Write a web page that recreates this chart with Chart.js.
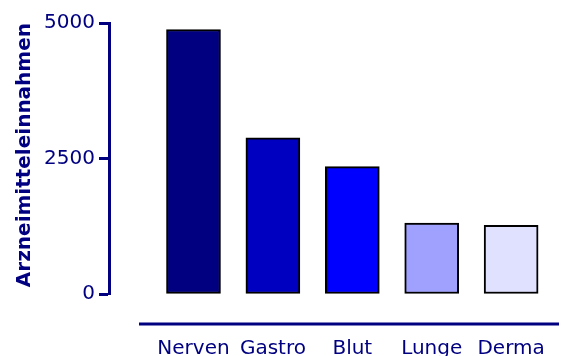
<!DOCTYPE html>
<html>
<head>
<meta charset="utf-8">
<script src="https://cdn.jsdelivr.net/npm/chart.js@4/dist/chart.umd.min.js"></script>
<style>
  html, body { margin: 0; padding: 0; background: #ffffff; }
  #wrap { width: 561px; height: 356px; }
</style>
</head>
<body>
<div id="wrap"><canvas id="c" width="561" height="356"></canvas></div>
<script>
const categories = ['Nerven', 'Gastro', 'Blut', 'Lunge', 'Derma'];
const values = [4880, 2880, 2350, 1310, 1265];
const barColors = ['#000080', '#0000C0', '#0000FF', '#A0A0FF', '#E0E0FF'];
const yTicks = [0, 2500, 5000];
const yTitle = 'Arzneimitteleinnahmen';

const NAVY = '#000080';
const FONT = 'DejaVu Sans';

const xLinePlugin = {
  id: 'xLine',
  afterDraw(chart) {
    const ctx = chart.ctx;
    const a = chart.chartArea;
    ctx.save();
    ctx.strokeStyle = NAVY;
    ctx.lineWidth = 3;
    ctx.beginPath();
    ctx.moveTo(a.left + 30, a.bottom + 30);
    ctx.lineTo(a.right, a.bottom + 30);
    ctx.stroke();
    ctx.restore();
  }
};

new Chart(document.getElementById('c'), {
  type: 'bar',
  data: {
    datasets: [{
      data: values.map((v, i) => ({ x: i, y: v })),
      backgroundColor: barColors,
      borderColor: '#000000',
      borderWidth: 2,
      borderSkipped: false,
      barThickness: 54
    }]
  },
  options: {
    responsive: false,
    animation: false,
    devicePixelRatio: 1,
    layout: { padding: { top: 23, right: 2, bottom: 0, left: 0 } },
    plugins: { legend: { display: false }, tooltip: { enabled: false } },
    scales: {
      x: {
        type: 'linear',
        offset: false,
        min: -1.064,
        max: 4.603,
        grid: { display: false },
        border: { display: false },
        afterBuildTicks(scale) { scale.ticks = categories.map((c, i) => ({ value: i })); },
        afterFit(scale) {
          scale.height = 62;
          scale.paddingLeft = 0;
          scale.paddingRight = 0;
        },
        ticks: {
          autoSkip: false,
          maxRotation: 0,
          padding: 35,
          color: NAVY,
          font: { family: FONT, size: 20 },
          callback: (v) => categories[v]
        }
      },
      y: {
        min: 0,
        max: 5000,
        afterBuildTicks(scale) { scale.ticks = yTicks.map(v => ({ value: v })); },
        afterFit(scale) { scale.width = 109; },
        grid: {
          drawOnChartArea: false,
          drawTicks: true,
          tickLength: 10,
          tickWidth: 3,
          tickColor: NAVY
        },
        border: { display: true, color: NAVY, width: 3 },
        ticks: {
          padding: 4,
          color: NAVY,
          font: { family: FONT, size: 20 },
          callback: (v) => String(v)
        },
        title: {
          display: true,
          text: yTitle,
          align: 'end',
          color: NAVY,
          font: { family: FONT, size: 20, weight: 'bold' },
          padding: { top: 13, bottom: 0 }
        }
      }
    }
  },
  plugins: [xLinePlugin]
});
</script>
</body>
</html>
